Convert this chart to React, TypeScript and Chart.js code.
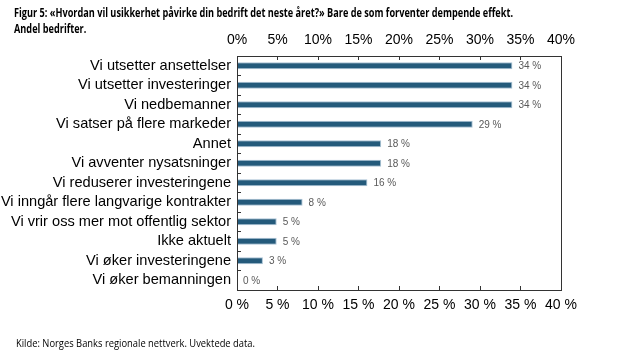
import React, { useEffect, useRef } from "react";
import { Chart, registerables } from "chart.js";

Chart.register(...registerables);

const categories = [
  "Vi utsetter ansettelser",
  "Vi utsetter investeringer",
  "Vi nedbemanner",
  "Vi satser på flere markeder",
  "Annet",
  "Vi avventer nysatsninger",
  "Vi reduserer investeringene",
  "Vi inngår flere langvarige kontrakter",
  "Vi vrir oss mer mot offentlig sektor",
  "Ikke aktuelt",
  "Vi øker investeringene",
  "Vi øker bemanningen",
];
const values = [34, 34, 34, 29.1, 17.8, 17.8, 16.1, 8.1, 4.9, 4.9, 3.2, 0];
const valueLabels = ["34 %", "34 %", "34 %", "29 %", "18 %", "18 %", "16 %", "8 %", "5 %", "5 %", "3 %", "0 %"];
const titleLines = [
  "Figur 5: «Hvordan vil usikkerhet påvirke din bedrift det neste året?» Bare de som forventer dempende effekt.",
  "Andel bedrifter.",
];
const footerText = "Kilde: Norges Banks regionale nettverk. Uvektede data.";
const axisMin = 0;
const axisMax = 40;
const axisStep = 5;

const W = 631;
const H = 355;

const drawFitted = (
  ctx: CanvasRenderingContext2D,
  text: string,
  font: string,
  x: number,
  y: number,
  scaleX: number
) => {
  ctx.save();
  ctx.font = font;
  ctx.translate(x, y);
  ctx.scale(scaleX, 1);
  ctx.fillText(text, 0, 0);
  ctx.restore();
};

const textPlugin = {
  id: "texts",
  afterDraw(chart: any) {
    const ctx = chart.ctx as CanvasRenderingContext2D;
    ctx.save();
    const a = chart.chartArea;
    ctx.strokeStyle = "#333";
    ctx.lineWidth = 1;
    ctx.strokeRect(Math.round(a.left) + 0.5, Math.round(a.top) + 0.5, Math.round(a.right - a.left), Math.round(a.bottom - a.top));
    ctx.fillStyle = "#000";
    ctx.textBaseline = "middle";
    ctx.textAlign = "left";
    const tFont = "bold 12.5px 'Open Sans', sans-serif";
    ctx.font = tFont;
    const tScale = 499 / ctx.measureText(titleLines[0]).width;
    drawFitted(ctx, titleLines[0], tFont, 14, 13, tScale);
    drawFitted(ctx, titleLines[1], tFont, 14, 29, tScale);
    const fFont = "normal 10px 'Open Sans', sans-serif";
    ctx.font = fFont;
    const fScale = 239 / ctx.measureText(footerText).width;
    drawFitted(ctx, footerText, fFont, 16, 344, fScale);
    const meta = chart.getDatasetMeta(0);
    ctx.font = "10px 'Liberation Sans', Arial, sans-serif";
    ctx.fillStyle = "#595959";
    meta.data.forEach((el: any, i: number) => {
      ctx.fillText(valueLabels[i], el.x + 6, el.y + 0.5);
    });
    ctx.restore();
  },
};

export default function App() {
  const ref = useRef<HTMLCanvasElement | null>(null);
  useEffect(() => {
    document.body.style.margin = "0";
    const ticksArr: number[] = [];
    for (let v = axisMin; v <= axisMax; v += axisStep) ticksArr.push(v);
    const chart = new Chart(ref.current as HTMLCanvasElement, {
      type: "bar",
      data: {
        labels: categories,
        datasets: [
          {
            data: values,
            backgroundColor: "#245A7B",
            borderColor: "#A8C2D4",
            borderWidth: 1,
            borderSkipped: "start",
            categoryPercentage: 1,
            barPercentage: 0.37,
            xAxisID: "x",
            yAxisID: "y",
          },
        ],
      },
      options: {
        indexAxis: "y",
        animation: false,
        responsive: false,
        maintainAspectRatio: false,
        layout: { padding: { left: 0, right: 70, top: 0, bottom: 0 } },
        plugins: { legend: { display: false }, tooltip: { enabled: false }, title: { display: false } },
        scales: {
          x: {
            type: "linear",
            position: "bottom",
            min: axisMin,
            max: axisMax,
            afterBuildTicks: (s: any) => { s.ticks = ticksArr.map((v) => ({ value: v })); },
            afterFit: (s: any) => { s.height = H - 290; },
            ticks: {
              callback: (v: any) => `${v} %`,
              color: "#000",
              font: { family: "'Liberation Sans', Arial, sans-serif", size: 14 },
              padding: 11,
              maxRotation: 0,
            },
            grid: { drawOnChartArea: false, tickLength: -4, color: "#333" },
            border: { display: true, color: "#333" },
          },
          x2: {
            type: "linear",
            position: "top",
            min: axisMin,
            max: axisMax,
            afterBuildTicks: (s: any) => { s.ticks = ticksArr.map((v) => ({ value: v })); },
            afterFit: (s: any) => { s.height = 56; },
            ticks: {
              callback: (v: any) => `${v}%`,
              color: "#000",
              font: { family: "'Liberation Sans', Arial, sans-serif", size: 14 },
              padding: 11,
              maxRotation: 0,
            },
            grid: { drawOnChartArea: false, tickLength: -4, color: "#333" },
            border: { display: true, color: "#333" },
          },
          y: {
            type: "category",
            position: "left",
            afterFit: (s: any) => { s.width = 237; },
            ticks: {
              color: "#000",
              font: { family: "'Liberation Sans', Arial, sans-serif", size: 14.6 },
              padding: 10,
              autoSkip: false,
            },
            grid: { drawOnChartArea: false, tickLength: -4, color: "#333", offset: true },
            border: { display: true, color: "#333" },
          },
        },
      },
      plugins: [textPlugin],
    } as any);
    return () => chart.destroy();
  }, []);
  return (
    <div style={{ width: W, height: H, background: "#fff" }}>
      <canvas ref={ref} width={W} height={H} style={{ display: "block", width: W, height: H }} />
    </div>
  );
}
